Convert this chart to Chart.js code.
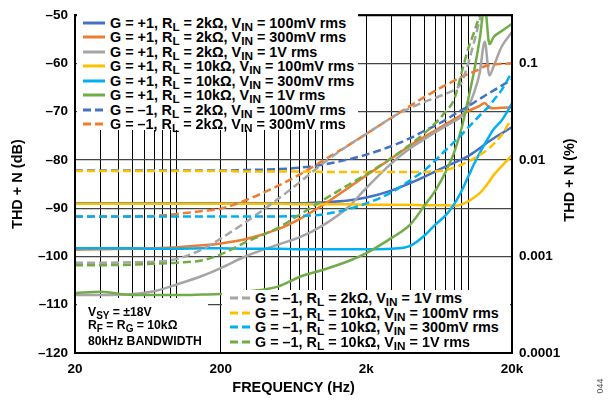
<!DOCTYPE html>
<html>
<head>
<meta charset="utf-8">
<script src="https://cdn.jsdelivr.net/npm/chart.js@4.4.0/dist/chart.umd.min.js"></script>
<style>
    body { margin: 0; background: #fff; }
    #wrap { position: relative; width: 616px; height: 406px; font-family: "Liberation Sans", Arial, sans-serif; font-weight: bold; color: #000; }
    #thdChart { position: absolute; left: 0; top: 0; }
    .box { position: absolute; background: #fff; }
    .row { position: absolute; left: 0; height: 14px; line-height: 14px; font-size: 14.4px; white-space: nowrap; }
    .row svg { position: absolute; top: 4px; }
    .row span { position: absolute; left: 33px; top: 0; }
    sub { font-size: 11.8px; vertical-align: -3px; line-height: 0; }
    .note { position: absolute; left: 11px; font-size: 12.2px; white-space: nowrap; line-height: 12px; }
    .note sub { font-size: 10px; vertical-align: -3px; }
    #rightTitle { position: absolute; left: 569px; top: 180px; font-size: 14.5px; white-space: nowrap; transform: translate(-50%, -50%) rotate(-90deg); }
    #figNo { position: absolute; left: 600px; top: 386px; font-size: 9px; font-weight: normal; color: #555; transform: translate(-50%, -50%) rotate(-90deg); }
</style>
</head>
<body>
<div id="wrap">
    <canvas id="thdChart" width="616" height="406"></canvas>
    <div id="legendTop" class="box" style="left:77px;top:8px;width:281px;height:122px"></div>
    <div id="legendBottom" class="box" style="left:222px;top:290px;width:288px;height:62px"></div>
    <div class="box" style="left:77px;top:298px;width:131px;height:54px">
        <div class="note" style="top:8px">V<sub>SY</sub> = ±18V</div>
        <div class="note" style="top:21px">R<sub>F</sub> = R<sub>G</sub> = 10kΩ</div>
        <div class="note" style="top:37px">80kHz BANDWIDTH</div>
    </div>
    <div id="rightTitle">THD + N (%)</div>
    <div id="figNo">044</div>
</div>
<script>
"use strict";

/*
 * Data (THD + N in dB against frequency in Hz)
 */
var FREQ = [20, 30, 50, 70, 100, 150, 200, 300, 500, 700, 1000, 1500, 2000, 3000, 4000, 5000,
    6000, 7000, 8000, 9000, 10000, 11000, 12000, 13000, 14000, 15000, 17000, 20000];

var G1_2K_100M = [-89, -89, -89, -89, -89, -89, -89, -89, -89, -89, -88.8, -88.4, -87.8, -86.3, -84.8, -83.5,
    -82.3, -81.4, -80.6, -79.9, -79.2, -78.4, -77.6, -76.8, -76.1, -75.5, -74.5, -73.2];
var G1_2K_300M = [-98.6, -98.5, -98.4, -98.3, -98.1, -97.7, -97.3, -96.4, -94.3, -92.2, -89.4, -85.8, -83.2, -79.6, -77, -75.2,
    -73.8, -72.6, -71.6, -70.7, -69.9, -69.3, -68.8, -68.2, -69.2, -69.3, -69.2, -69.1];
var G1_2K_1V = [-108, -108, -107.8, -107.2, -105.8, -104, -102.4, -99.9, -97.5, -96, -93.6, -89.8, -85.8, -80.6, -77.6, -75.7,
    -74.2, -73, -72, -71, -69, -66, -62, -55.5, -62.5, -60.5, -56.5, -53.5];
var G1_10K_100M = [-89.1, -89.1, -89.1, -89.1, -89.1, -89.1, -89.1, -89.1, -89.1, -89.2, -89.2, -89.2, -89.3, -89.3, -89.3, -89.4,
    -89.4, -89.4, -89.5, -89.2, -88.6, -87.8, -86.9, -85.7, -84.4, -83.1, -81.3, -79];
var G1_10K_300M = [-98.3, -98.3, -98.3, -98.4, -98.4, -98.3, -98.3, -98.4, -98.4, -98.5, -98.5, -98.5, -98.5, -98.4, -97.8, -95.7,
    -93.3, -91.5, -89.2, -86.5, -83.5, -80.8, -78.6, -76.7, -75, -73.6, -71.8, -68.3];
var G1_10K_1V = [-107.6, -107.3, -108, -108, -108, -107.9, -107.8, -107.3, -106.2, -104.2, -102.8, -101, -99.3, -96.1, -93.4, -89.5,
    -86.2, -82.5, -78.5, -73.5, -67.5, -61.5, -55, -48, -56, -54.5, -53.3, -51.8];
var GM1_2K_100M = [-82.2, -82.2, -82.2, -82.2, -82.2, -82.2, -82.2, -82.1, -81.9, -81.6, -81, -79.9, -78.9, -77.1, -75.5, -74,
    -72.8, -71.7, -70.6, -69.7, -68.9, -68.1, -67.4, -66.7, -66.1, -65.6, -64.6, -63.3];
var GM1_2K_300M = [-91.7, -91.7, -91.7, -91.6, -91.2, -90.6, -90.1, -88.3, -85.3, -83, -80.2, -77, -74.6, -71.2, -68.8, -67,
    -65.6, -64.5, -63.6, -62.8, -62.2, -61.7, -61.2, -60.6, -60.4, -60.2, -60.1, -60];
var GM1_2K_1V = [-101.3, -101.3, -101.2, -101.1, -100.5, -98.5, -96.3, -92.8, -88, -84.6, -80.8, -77, -74.6, -71.2, -69.2, -68,
    -67.1, -66.3, -65.5, -64, -60, -55.5, -51, -47, null, null, null, null];
var GM1_10K_100M = [-82.3, -82.3, -82.3, -82.3, -82.3, -82.3, -82.3, -82.4, -82.4, -82.4, -82.5, -82.5, -82.5, -82.5, -82.5, -82.5,
    -82.4, -82.1, -81.6, -81, -80.3, -79.7, -79, -78.3, -77.5, -76.7, -74.8, -71.3];
var GM1_10K_300M = [-91.7, -91.7, -91.7, -91.7, -91.7, -91.7, -91.7, -91.7, -91.7, -91.6, -91.3, -90.2, -89, -86.7, -84.2, -82.2,
    -80, -78, -76.3, -74.8, -73.3, -72, -70.8, -69.8, -68.8, -67.6, -65.5, -61.8];
var GM1_10K_1V = [-101.8, -101.8, -101.7, -101.5, -101.3, -100.8, -99.6, -97, -94, -91.3, -88.4, -85.2, -83, -79.5, -76.8, -74.5,
    -72.3, -70, -67.5, -62, -57, -53.5, -50, -46.5, null, null, null, null];

var SERIES = [G1_2K_100M, G1_2K_300M, G1_2K_1V, G1_10K_100M, G1_10K_300M, G1_10K_1V,
    GM1_2K_100M, GM1_2K_300M, GM1_2K_1V, GM1_10K_100M, GM1_10K_300M, GM1_10K_1V];
var SERIES_GAIN = ['+1', '+1', '+1', '+1', '+1', '+1', '–1', '–1', '–1', '–1', '–1', '–1'];
var SERIES_LOAD = ['2kΩ', '2kΩ', '2kΩ', '10kΩ', '10kΩ', '10kΩ', '2kΩ', '2kΩ', '2kΩ', '10kΩ', '10kΩ', '10kΩ'];
var SERIES_VIN = ['100mV', '300mV', '1V', '100mV', '300mV', '1V', '100mV', '300mV', '1V', '100mV', '300mV', '1V'];
var SERIES_COLOR = ['#4472C4', '#ED7D31', '#A5A5A5', '#FFC000', '#00B0F0', '#70AD47',
    '#4472C4', '#ED7D31', '#A5A5A5', '#FFC000', '#00B0F0', '#70AD47'];
var SERIES_DASHED = [false, false, false, false, false, false, true, true, true, true, true, true];

var GRID_FREQ = [20, 30, 40, 50, 60, 70, 80, 90, 100, 200, 300, 400, 500, 600, 700, 800, 900,
    1000, 2000, 3000, 4000, 5000, 6000, 7000, 8000, 9000, 10000, 20000];
var X_TICK_VALUES = [20, 200, 2000, 20000];
var X_TICK_LABELS = ['20', '200', '2k', '20k'];
var PCT_TICKS = [0.0001, 0.001, 0.01, 0.1];
var PCT_LABELS = ['0.0001', '0.001', '0.01', '0.1'];

var FONT = '"Liberation Sans", Arial, sans-serif';

function pctToDb(p) {
    return 20 * Math.log10(p / 100);
}

function seriesLabel(i) {
    return 'G = ' + SERIES_GAIN[i] + ', R<sub>L</sub> = ' + SERIES_LOAD[i] +
        ', V<sub>IN</sub> = ' + SERIES_VIN[i] + ' rms';
}

/*
 * Legend boxes: first 8 entries top left, last 4 bottom right
 */
function buildLegend() {
    var top = document.getElementById('legendTop');
    var bottom = document.getElementById('legendBottom');
    var i, row, box, idx, dash;

    for (i = 0; i < SERIES.length; i++) {
        box = i < 8 ? top : bottom;
        idx = i < 8 ? i : i - 8;
        row = document.createElement('div');
        row.className = 'row';
        row.style.top = (i < 8 ? 7.5 + 14.5 * idx : 1 + 14.5 * idx) + 'px';
        dash = SERIES_DASHED[i] ? ' stroke-dasharray="8 4"' : '';
        row.innerHTML = '<svg width="30" height="6" style="left:' + (i < 8 ? 6 : 8) + 'px">' +
            '<line x1="0" y1="3" x2="22" y2="3" stroke="' + SERIES_COLOR[i] + '" stroke-width="3"' + dash + '/></svg>' +
            '<span>' + seriesLabel(i) + '</span>';
        box.appendChild(row);
    }
}

var framePlugin = {
    id: 'frame',
    afterDraw: function (chart) {
        var a = chart.chartArea;
        var ctx = chart.ctx;
        ctx.save();
        ctx.strokeStyle = '#000';
        ctx.lineWidth = 2;
        ctx.strokeRect(a.left, a.top, a.right - a.left, a.bottom - a.top);
        ctx.restore();
    }
};

function init() {
    var datasets = [];
    var i;

    for (i = 0; i < SERIES.length; i++) {
        datasets.push({
            label: seriesLabel(i),
            data: SERIES[i],
            borderColor: SERIES_COLOR[i],
            backgroundColor: SERIES_COLOR[i],
            borderWidth: 2.5,
            borderDash: SERIES_DASHED[i] ? [8, 4] : [],
            pointRadius: 0,
            cubicInterpolationMode: 'monotone',
            spanGaps: false,
            order: SERIES.length - i
        });
    }

    new Chart(document.getElementById('thdChart'), {
        type: 'line',
        data: {
            labels: FREQ,
            datasets: datasets
        },
        options: {
            responsive: false,
            animation: false,
            layout: { padding: { top: 7, left: 0, right: 0, bottom: 0 } },
            plugins: {
                legend: { display: false },
                tooltip: { enabled: false }
            },
            scales: {
                x: {
                    type: 'logarithmic',
                    min: 20,
                    max: 20000,
                    afterBuildTicks: function (s) {
                        s.ticks = GRID_FREQ.map(function (v) { return { value: v }; });
                    },
                    afterFit: function (s) { s.height = 53; },
                    grid: { color: '#000', lineWidth: 1, drawTicks: false },
                    border: { color: '#000', width: 2 },
                    ticks: {
                        autoSkip: false,
                        maxRotation: 0,
                        padding: 8,
                        color: '#000',
                        font: { family: FONT, size: 13.5, weight: 'bold' },
                        callback: function (v) {
                            var k = X_TICK_VALUES.indexOf(v);
                            return k >= 0 ? X_TICK_LABELS[k] : '';
                        }
                    },
                    title: {
                        display: true,
                        text: 'FREQUENCY (Hz)',
                        color: '#000',
                        font: { family: FONT, size: 14.5, weight: 'bold' },
                        padding: { top: 0, bottom: 9 }
                    }
                },
                y: {
                    position: 'left',
                    min: -120,
                    max: -50,
                    afterFit: function (s) { s.width = 75; },
                    grid: { color: '#444', lineWidth: 1.2, drawTicks: false },
                    border: { color: '#000', width: 2 },
                    ticks: {
                        stepSize: 10,
                        padding: 7,
                        color: '#000',
                        font: { family: FONT, size: 13.5, weight: 'bold' },
                        callback: function (v) { return '–' + Math.abs(v); }
                    },
                    title: {
                        display: true,
                        text: 'THD + N (dB)',
                        color: '#000',
                        font: { family: FONT, size: 14.5, weight: 'bold' },
                        padding: { top: 9, bottom: 0 }
                    }
                },
                y2: {
                    position: 'right',
                    min: -120,
                    max: -50,
                    afterBuildTicks: function (s) {
                        s.ticks = PCT_TICKS.map(function (p) { return { value: pctToDb(p) }; });
                    },
                    afterFit: function (s) { s.width = 104; },
                    grid: { display: false, drawTicks: false },
                    border: { color: '#000', width: 2 },
                    ticks: {
                        padding: 7,
                        color: '#000',
                        font: { family: FONT, size: 13.5, weight: 'bold' },
                        callback: function (v, idx) { return PCT_LABELS[idx]; }
                    }
                }
            }
        },
        plugins: [framePlugin]
    });
}

buildLegend();
init();
</script>
</body>
</html>
